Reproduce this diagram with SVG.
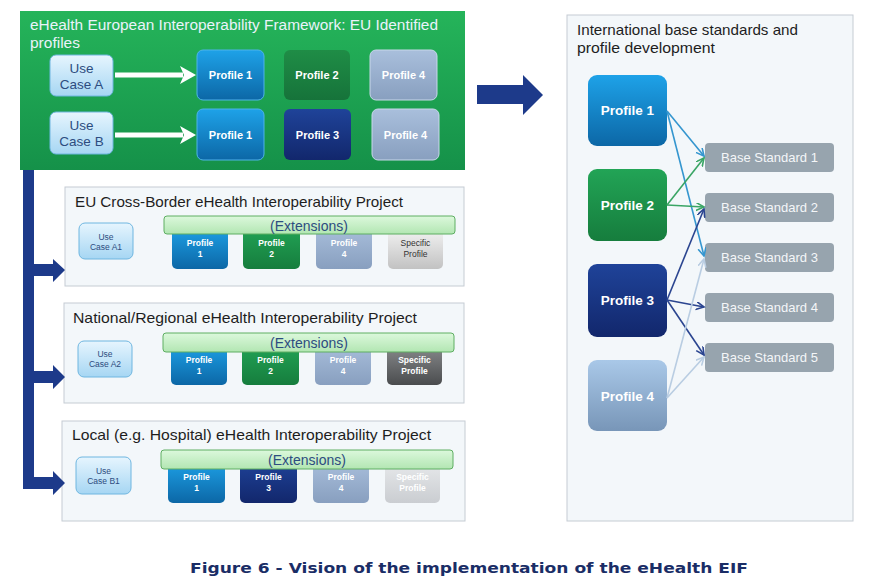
<svg xmlns="http://www.w3.org/2000/svg" width="870" height="586" viewBox="0 0 870 586">
<defs>
<linearGradient id="gGreen" x1="0" y1="0" x2="0" y2="1"><stop offset="0" stop-color="#25b45a"/><stop offset="1" stop-color="#159149"/></linearGradient>
<linearGradient id="gBlue" x1="0" y1="0" x2="0" y2="1"><stop offset="0" stop-color="#1ea2e8"/><stop offset="1" stop-color="#0c67a6"/></linearGradient>
<linearGradient id="gPGreen" x1="0" y1="0" x2="0" y2="1"><stop offset="0" stop-color="#22a456"/><stop offset="1" stop-color="#167d3d"/></linearGradient>
<linearGradient id="gPGreenDk" x1="0" y1="0" x2="0" y2="1"><stop offset="0" stop-color="#1f8d46"/><stop offset="1" stop-color="#16733a"/></linearGradient>
<linearGradient id="gNavy" x1="0" y1="0" x2="0" y2="1"><stop offset="0" stop-color="#1f4399"/><stop offset="1" stop-color="#12276c"/></linearGradient>
<linearGradient id="gLight" x1="0" y1="0" x2="0" y2="1"><stop offset="0" stop-color="#a9c8e8"/><stop offset="1" stop-color="#7896b8"/></linearGradient>
<linearGradient id="gLight2" x1="0" y1="0" x2="0" y2="1"><stop offset="0" stop-color="#a9bfdc"/><stop offset="1" stop-color="#889fbf"/></linearGradient>
<linearGradient id="gUse" x1="0" y1="0" x2="0" y2="1"><stop offset="0" stop-color="#e6f5fe"/><stop offset="1" stop-color="#a6d6f3"/></linearGradient>
<linearGradient id="gExt" x1="0" y1="0" x2="0" y2="1"><stop offset="0" stop-color="#dcf8dc"/><stop offset="1" stop-color="#b2e6b2"/></linearGradient>
<linearGradient id="gSpecL" x1="0" y1="0" x2="0" y2="1"><stop offset="0" stop-color="#f6f6f6"/><stop offset="1" stop-color="#c2c2c2"/></linearGradient>
<linearGradient id="gSpecD" x1="0" y1="0" x2="0" y2="1"><stop offset="0" stop-color="#8c8e90"/><stop offset="1" stop-color="#4a4c4e"/></linearGradient>
<linearGradient id="gSpecF" x1="0" y1="0" x2="0" y2="1"><stop offset="0" stop-color="#e8eaec"/><stop offset="1" stop-color="#cacdd1"/></linearGradient>
<marker id="mBlue" markerWidth="10" markerHeight="10" refX="8" refY="4" orient="auto" markerUnits="userSpaceOnUse"><path d="M0,0 L8,4 L0,8" fill="none" stroke="#3596cf" stroke-width="1.6"/></marker>
<marker id="mGreen" markerWidth="10" markerHeight="10" refX="8" refY="4" orient="auto" markerUnits="userSpaceOnUse"><path d="M0,0 L8,4 L0,8" fill="none" stroke="#3aa565" stroke-width="1.6"/></marker>
<marker id="mNavy" markerWidth="10" markerHeight="10" refX="8" refY="4" orient="auto" markerUnits="userSpaceOnUse"><path d="M0,0 L8,4 L0,8" fill="none" stroke="#2b4590" stroke-width="1.6"/></marker>
<marker id="mLight" markerWidth="10" markerHeight="10" refX="8" refY="4" orient="auto" markerUnits="userSpaceOnUse"><path d="M0,0 L8,4 L0,8" fill="none" stroke="#b9cde2" stroke-width="1.6"/></marker>
</defs>
<style>
text{font-family:"Liberation Sans",Arial,sans-serif}
text.cap{font-family:"DejaVu Sans",Verdana,sans-serif;font-weight:bold;font-size:14.5px;fill:#1a2d66}
.panel{fill:#f3f7fa;stroke:#c5ccd3;stroke-width:1}
.ttl{font-size:14.5px;fill:#1e1e1e}
.gttl{font-size:15.5px;fill:#eaf3fb}
.use{fill:url(#gUse);stroke:#6fb6e0;stroke-width:1}
.usetxt{fill:#2d4c80;text-anchor:middle}
.pt{fill:#fff;font-weight:bold;text-anchor:middle}
.ext{fill:url(#gExt);stroke:#5eae62;stroke-width:1}
.exttxt{font-size:14px;fill:#2d4c80;text-anchor:middle}
.bs{fill:#97a4ae}
.bstxt{font-size:13px;fill:#f4f6f8;text-anchor:middle}
.navy{fill:#1d3a8a}
</style>
<rect width="870" height="586" fill="#ffffff"/>

<g id="eif-framework">
<rect x="20" y="11" width="445" height="159" fill="url(#gGreen)"/>
<text class="gttl" x="30" y="30" textLength="408" lengthAdjust="spacingAndGlyphs">eHealth European Interoperability Framework: EU Identified</text>
<text class="gttl" x="30" y="48">profiles</text>
</g>
<g id="use-case-a">
<rect class="use" x="50" y="55" width="63" height="41" rx="6"/>
<text class="usetxt" x="81.5" y="73" font-size="13.5">Use</text>
<text class="usetxt" x="81.5" y="89" font-size="13.5">Case A</text>
</g>
<g id="use-case-b">
<rect class="use" x="50" y="112" width="63" height="42" rx="6"/>
<text class="usetxt" x="81.5" y="130" font-size="13.5">Use</text>
<text class="usetxt" x="81.5" y="146" font-size="13.5">Case B</text>
</g>
<g id="eif-a-profile1">
<rect x="197" y="50" width="67" height="50" rx="6" fill="url(#gBlue)" stroke="#4fb3ea" stroke-width="1"/>
<text class="pt" x="230.5" y="79" font-size="11">Profile 1</text>
</g>
<g id="eif-a-profile2">
<rect x="284" y="50" width="66" height="50" rx="6" fill="url(#gPGreenDk)"/>
<text class="pt" x="317" y="79" font-size="11" fill="#e8f4ea">Profile 2</text>
</g>
<g id="eif-a-profile4">
<rect x="370" y="50" width="67" height="50" rx="6" fill="url(#gLight2)" stroke="#c8d8ea" stroke-width="1"/>
<text class="pt" x="403.5" y="79" font-size="11">Profile 4</text>
</g>
<g id="eif-b-profile1">
<rect x="197" y="109" width="67" height="51" rx="6" fill="url(#gBlue)" stroke="#4fb3ea" stroke-width="1"/>
<text class="pt" x="230.5" y="139" font-size="11">Profile 1</text>
</g>
<g id="eif-b-profile3">
<rect x="284" y="109" width="67" height="51" rx="6" fill="url(#gNavy)"/>
<text class="pt" x="317.5" y="139" font-size="11">Profile 3</text>
</g>
<g id="eif-b-profile4">
<rect x="372" y="109" width="67" height="51" rx="6" fill="url(#gLight2)" stroke="#c8d8ea" stroke-width="1"/>
<text class="pt" x="405.5" y="139" font-size="11">Profile 4</text>
</g>

<g id="project-eu">
<rect class="panel" x="65" y="187" width="399" height="99"/>
<text class="ttl" x="75" y="207" textLength="328" lengthAdjust="spacingAndGlyphs">EU Cross-Border eHealth Interoperability Project</text>
<rect class="use" x="79" y="223" width="54" height="36" rx="6"/>
<text class="usetxt" x="106" y="240" font-size="8.5">Use</text>
<text class="usetxt" x="106" y="250" font-size="8.5">Case A1</text>
<rect x="172" y="226" width="56" height="43" rx="5" fill="url(#gBlue)"/>
<rect x="243" y="226" width="57" height="43" rx="5" fill="url(#gPGreen)"/>
<rect x="316" y="226" width="56" height="43" rx="5" fill="url(#gLight2)"/>
<rect x="388" y="226" width="55" height="43" rx="5" fill="url(#gSpecL)"/>
<rect class="ext" x="164" y="216" width="291" height="18" rx="3"/>
<text class="exttxt" x="309" y="231">(Extensions)</text>
<g font-size="8.5">
<text class="pt" x="200" y="246">Profile</text><text class="pt" x="200" y="257">1</text>
<text class="pt" x="271.5" y="246">Profile</text><text class="pt" x="271.5" y="257">2</text>
<text class="pt" x="344" y="246" fill="#e6eef8">Profile</text><text class="pt" x="344" y="257" fill="#e6eef8">4</text>
<text x="415.5" y="246" text-anchor="middle" fill="#333">Specific</text><text x="415.5" y="257" text-anchor="middle" fill="#333">Profile</text>
</g>
</g>

<g id="project-national">
<rect class="panel" x="64" y="303" width="400" height="100"/>
<text class="ttl" x="73" y="323" textLength="344" lengthAdjust="spacingAndGlyphs">National/Regional eHealth Interoperability Project</text>
<rect class="use" x="78" y="341" width="54" height="36" rx="6"/>
<text class="usetxt" x="105" y="357" font-size="8.5">Use</text>
<text class="usetxt" x="105" y="367" font-size="8.5">Case A2</text>
<rect x="171" y="343" width="56" height="42" rx="5" fill="url(#gBlue)"/>
<rect x="242" y="343" width="57" height="42" rx="5" fill="url(#gPGreen)"/>
<rect x="315" y="343" width="56" height="42" rx="5" fill="url(#gLight2)"/>
<rect x="387" y="343" width="55" height="42" rx="5" fill="url(#gSpecD)"/>
<rect class="ext" x="163" y="333" width="291" height="19" rx="3"/>
<text class="exttxt" x="309" y="348">(Extensions)</text>
<g font-size="8.5">
<text class="pt" x="199" y="363">Profile</text><text class="pt" x="199" y="374">1</text>
<text class="pt" x="270.5" y="363">Profile</text><text class="pt" x="270.5" y="374">2</text>
<text class="pt" x="343" y="363" fill="#e6eef8">Profile</text><text class="pt" x="343" y="374" fill="#e6eef8">4</text>
<text class="pt" x="414.5" y="363">Specific</text><text class="pt" x="414.5" y="374">Profile</text>
</g>
</g>

<g id="project-local">
<rect class="panel" x="62" y="421" width="403" height="100"/>
<text class="ttl" x="72" y="440" textLength="359" lengthAdjust="spacingAndGlyphs">Local (e.g. Hospital) eHealth Interoperability Project</text>
<rect class="use" x="76" y="457" width="55" height="37" rx="6"/>
<text class="usetxt" x="103.5" y="474" font-size="8.5">Use</text>
<text class="usetxt" x="103.5" y="484" font-size="8.5">Case B1</text>
<rect x="168" y="460" width="57" height="43" rx="5" fill="url(#gBlue)"/>
<rect x="240" y="460" width="57" height="43" rx="5" fill="url(#gNavy)"/>
<rect x="313" y="460" width="56" height="43" rx="5" fill="url(#gLight2)"/>
<rect x="385" y="460" width="55" height="43" rx="5" fill="url(#gSpecF)"/>
<rect class="ext" x="161" y="450" width="292" height="19" rx="3"/>
<text class="exttxt" x="307" y="465">(Extensions)</text>
<g font-size="8.5">
<text class="pt" x="196.5" y="480">Profile</text><text class="pt" x="196.5" y="491">1</text>
<text class="pt" x="268.5" y="480">Profile</text><text class="pt" x="268.5" y="491">3</text>
<text class="pt" x="341" y="480" fill="#e6eef8">Profile</text><text class="pt" x="341" y="491" fill="#e6eef8">4</text>
<text class="pt" x="412.5" y="480" fill="#f4f4f4">Specific</text><text class="pt" x="412.5" y="491" fill="#f4f4f4">Profile</text>
</g>
</g>

<g id="international">
<rect class="panel" x="567" y="15" width="286" height="506"/>
<text class="ttl" x="577" y="35" font-size="15" textLength="221" lengthAdjust="spacingAndGlyphs">International base standards and</text>
<text class="ttl" x="577" y="53" font-size="15" textLength="138" lengthAdjust="spacingAndGlyphs">profile development</text>
</g>
<g id="int-profile1">
<rect x="588" y="75" width="79" height="71" rx="9" fill="url(#gBlue)"/>
<text class="pt" x="627.5" y="115" font-size="13.5">Profile 1</text>
</g>
<g id="int-profile2">
<rect x="588" y="169" width="79" height="72" rx="9" fill="url(#gPGreen)"/>
<text class="pt" x="627.5" y="210" font-size="13.5">Profile 2</text>
</g>
<g id="int-profile3">
<rect x="588" y="264" width="79" height="73" rx="9" fill="url(#gNavy)"/>
<text class="pt" x="627.5" y="305" font-size="13.5">Profile 3</text>
</g>
<g id="int-profile4">
<rect x="588" y="360" width="79" height="71" rx="9" fill="url(#gLight)"/>
<text class="pt" x="627.5" y="401" font-size="13.5" fill="#eef4fa">Profile 4</text>
</g>
<g id="base-standard-1"><rect class="bs" x="705" y="143" width="129" height="29" rx="4"/><text class="bstxt" x="769.5" y="162">Base Standard 1</text></g>
<g id="base-standard-2"><rect class="bs" x="705" y="193" width="129" height="29" rx="4"/><text class="bstxt" x="769.5" y="212">Base Standard 2</text></g>
<g id="base-standard-3"><rect class="bs" x="705" y="243" width="129" height="29" rx="4"/><text class="bstxt" x="769.5" y="262">Base Standard 3</text></g>
<g id="base-standard-4"><rect class="bs" x="705" y="293" width="129" height="29" rx="4"/><text class="bstxt" x="769.5" y="312">Base Standard 4</text></g>
<g id="base-standard-5"><rect class="bs" x="705" y="343" width="129" height="29" rx="4"/><text class="bstxt" x="769.5" y="362">Base Standard 5</text></g>

<g id="connectors">
<g stroke="#ffffff" stroke-width="5" fill="#ffffff">
<line x1="115" y1="75" x2="183" y2="75"/>
<path d="M180,66 L196,75 L180,84 L184,75 Z" stroke="none"/>
<line x1="115" y1="135" x2="183" y2="135"/>
<path d="M180,126 L196,135 L180,144 L184,135 Z" stroke="none"/>
</g>
<polygon class="navy" points="477,85 523,85 523,75 543,95 523,115 523,104 477,104"/>
<rect class="navy" x="23" y="170" width="11" height="319"/>
<path class="navy" d="M23,264 H53 V259 L65,270 L53,282 V276 H23 Z"/>
<path class="navy" d="M23,371 H53 V365 L65,377 L53,389 V383 H23 Z"/>
<path class="navy" d="M23,477 H53 V471 L65,483 L53,495 V489 H23 Z"/>
<g fill="none" stroke-width="1.6">
<line x1="667" y1="111" x2="704" y2="156" stroke="#3596cf" marker-end="url(#mBlue)"/>
<line x1="667" y1="111" x2="704" y2="256" stroke="#3596cf" marker-end="url(#mBlue)"/>
<line x1="667" y1="205" x2="704" y2="158" stroke="#3aa565" marker-end="url(#mGreen)"/>
<line x1="667" y1="205" x2="704" y2="207" stroke="#3aa565" marker-end="url(#mGreen)"/>
<line x1="667" y1="300" x2="704" y2="209" stroke="#2b4590" marker-end="url(#mNavy)"/>
<line x1="667" y1="300" x2="704" y2="307" stroke="#2b4590" marker-end="url(#mNavy)"/>
<line x1="667" y1="300" x2="704" y2="355" stroke="#2b4590" marker-end="url(#mNavy)"/>
<line x1="667" y1="398" x2="704" y2="259" stroke="#b9cde2" marker-end="url(#mLight)"/>
<line x1="667" y1="398" x2="704" y2="357" stroke="#b9cde2" marker-end="url(#mLight)"/>
</g>
</g>

<text class="cap" x="190" y="573" textLength="558" lengthAdjust="spacingAndGlyphs">Figure 6 - Vision of the implementation of the eHealth EIF</text>
</svg>
